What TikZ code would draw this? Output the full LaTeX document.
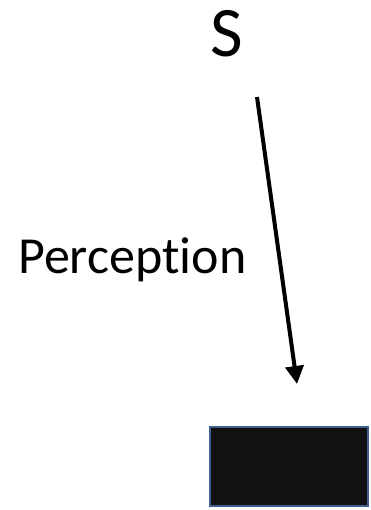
\documentclass[tikz,border=0pt]{standalone}
\usepackage{fontspec}
\setmainfont[Ligatures={NoCommon}]{Carlito}
\usetikzlibrary{arrows.meta}
\definecolor{boxfill}{HTML}{111111}
\definecolor{boxedge}{HTML}{3F5F8F}
\tikzset{
  lbl/.style={inner sep=0pt, anchor=base},
  conn/.style={line width=4pt, -{Triangle[length=18pt,width=18pt]}},
  blackbox/.style={draw=boxedge, line width=2pt, fill=boxfill, minimum width=158pt, minimum height=79pt, inner sep=0pt}
}
\begin{document}
\begin{tikzpicture}[x=1pt,y=-1pt]
\useasboundingbox (0,0) rectangle (370,510);
\node[lbl, font=\fontsize{71}{71}\selectfont] (s) at (227,57) {S};
\node[lbl, anchor=base west, font=\fontsize{52}{52}\selectfont] (p) at (18,273) {Perception};
\coordinate (a1) at (257,97);
\coordinate (a2) at (297,384);
\draw[conn] (a1) -- (a2);
\node[blackbox] (b) at (289,466.5) {};
\end{tikzpicture}
\end{document}
